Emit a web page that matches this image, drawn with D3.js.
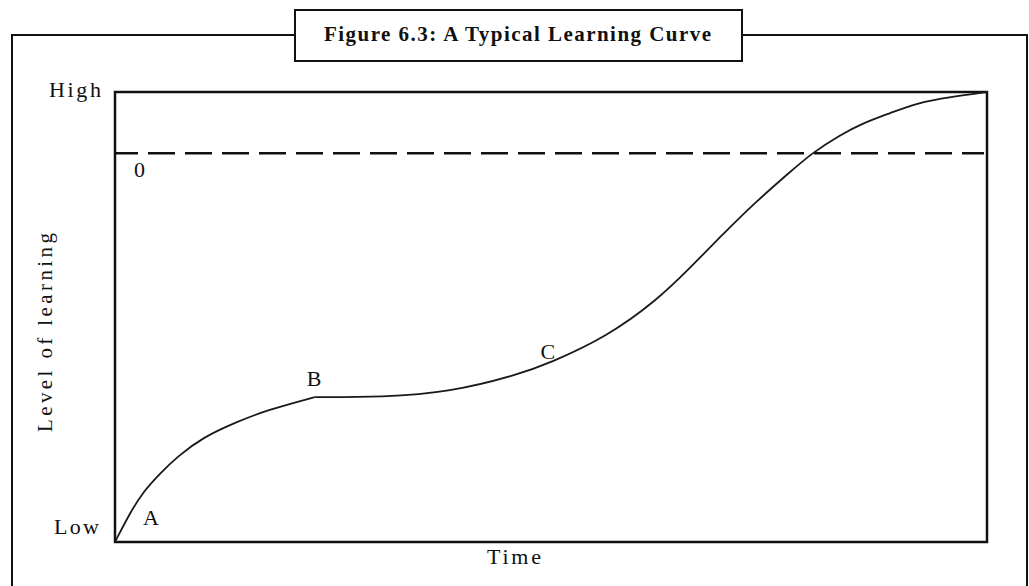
<!DOCTYPE html>
<html>
<head>
<meta charset="utf-8">
<script src="https://cdn.jsdelivr.net/npm/d3@7"></script>
<style>
  body { margin: 0; background: #fff; }
  text { font-family: "Liberation Serif", "DejaVu Serif", serif; fill: #111; }
</style>
</head>
<body>
<div id="chart"></div>
<script>
// Learning curve (time 0-100, level 0-100)
const phaseOneTime  = [0, 1.7, 3.2, 5.2, 7.1, 10.1, 14.0, 17.4, 22.9];
const phaseOneLevel = [0, 6.4, 11.1, 15.3, 18.9, 23.3, 26.7, 29.3, 32.2];

const phaseTwoTime  = [22.9, 30.7, 38.4, 46.1, 49.9, 56.4, 62.2, 65.9, 69.7, 73.6, 77.4, 79.9, 83.1, 85.8, 88.9, 92.0, 95.8, 100];
const phaseTwoLevel = [32.2, 32.2, 33.3, 37.1, 39.8, 45.6, 53.8, 60.8, 68.4, 75.8, 82.2, 86.4, 90.4, 93.1, 95.3, 97.6, 98.9, 100];

// dashed reference level
const plateauLevel = 86.4;

// point labels along the curve
const pointNames = ['A', 'B', 'C'];
const pointTime  = [3.2, 22.0, 48.8];
const pointLevel = [3.7, 34.7, 40.7];

const yTickLabels = ['Low', 'High'];
const titleText = 'Figure 6.3: A Typical Learning Curve';

const width = 1029, height = 586;
const margin = {top: 92, right: 42, bottom: 44, left: 115};
const innerW = width - margin.left - margin.right;
const innerH = height - margin.top - margin.bottom;

const x = d3.scaleLinear().domain([0, 100]).range([0, innerW]);
const y = d3.scaleLinear().domain([0, 100]).range([innerH, 0]);

const svg = d3.select('#chart').append('svg')
  .attr('width', width)
  .attr('height', height);

// outer frame (open at the bottom)
svg.append('path')
  .attr('d', 'M12,' + height + ' L12,35 L1027,35 L1027,' + height)
  .attr('fill', 'none')
  .attr('stroke', '#111')
  .attr('stroke-width', 2);

// title box
svg.append('rect')
  .attr('x', 295).attr('y', 10)
  .attr('width', 447).attr('height', 51)
  .attr('fill', '#fff')
  .attr('stroke', '#111')
  .attr('stroke-width', 2);

svg.append('text')
  .attr('x', 324).attr('y', 41)
  .attr('font-size', 21)
  .attr('font-weight', 'bold')
  .attr('textLength', 387)
  .attr('lengthAdjust', 'spacing')
  .text(titleText);

const g = svg.append('g')
  .attr('transform', 'translate(' + margin.left + ',' + margin.top + ')');

// plot box
g.append('rect')
  .attr('width', innerW).attr('height', innerH)
  .attr('fill', 'none')
  .attr('stroke', '#111')
  .attr('stroke-width', 2.5);

// dashed line
g.append('line')
  .attr('x1', 0).attr('x2', innerW - 3)
  .attr('y1', y(plateauLevel)).attr('y2', y(plateauLevel))
  .attr('stroke', '#111')
  .attr('stroke-width', 2.5)
  .attr('stroke-dasharray', '27,10')
  .attr('stroke-dashoffset', 4);

g.append('text')
  .attr('x', x(0) + 19).attr('y', y(plateauLevel) + 24)
  .attr('font-size', 22)
  .text('0');

// curve - basis smooths out the reading noise
const line = d3.line()
  .x(d => x(d[0]))
  .y(d => y(d[1]))
  .curve(d3.curveBasis);

const phaseOne = phaseOneTime.map((t, i) => [t, phaseOneLevel[i]]);
const phaseTwo = phaseTwoTime.map((t, i) => [t, phaseTwoLevel[i]]);

[phaseOne, phaseTwo].forEach(pts => {
  g.append('path')
    .datum(pts)
    .attr('d', line)
    .attr('fill', 'none')
    .attr('stroke', '#1a1a1a')
    .attr('stroke-width', 1.8);
});

g.selectAll('.point-label')
  .data(pointNames)
  .enter().append('text')
  .attr('class', 'point-label')
  .attr('x', (d, i) => x(pointTime[i]))
  .attr('y', (d, i) => y(pointLevel[i]))
  .attr('font-size', 22)
  .text(d => d);

// y tick labels
g.append('text')
  .attr('x', -16).attr('y', y(0) - 8)
  .attr('text-anchor', 'end')
  .attr('font-size', 22)
  .attr('textLength', 45)
  .attr('lengthAdjust', 'spacing')
  .text(yTickLabels[0]);

g.append('text')
  .attr('x', -14).attr('y', y(100) + 5)
  .attr('text-anchor', 'end')
  .attr('font-size', 22)
  .attr('textLength', 52)
  .attr('lengthAdjust', 'spacing')
  .text(yTickLabels[1]);

// axis titles
g.append('text')
  .attr('x', innerW / 2 - 64).attr('y', innerH + 22)
  .attr('font-size', 22)
  .attr('textLength', 54)
  .attr('lengthAdjust', 'spacing')
  .text('Time');

g.append('text')
  .attr('transform', 'translate(' + (52 - margin.left) + ',' + (432 - margin.top) + ') rotate(-90)')
  .attr('font-size', 21)
  .attr('textLength', 199)
  .attr('lengthAdjust', 'spacing')
  .text('Level of learning');
</script>
</body>
</html>
